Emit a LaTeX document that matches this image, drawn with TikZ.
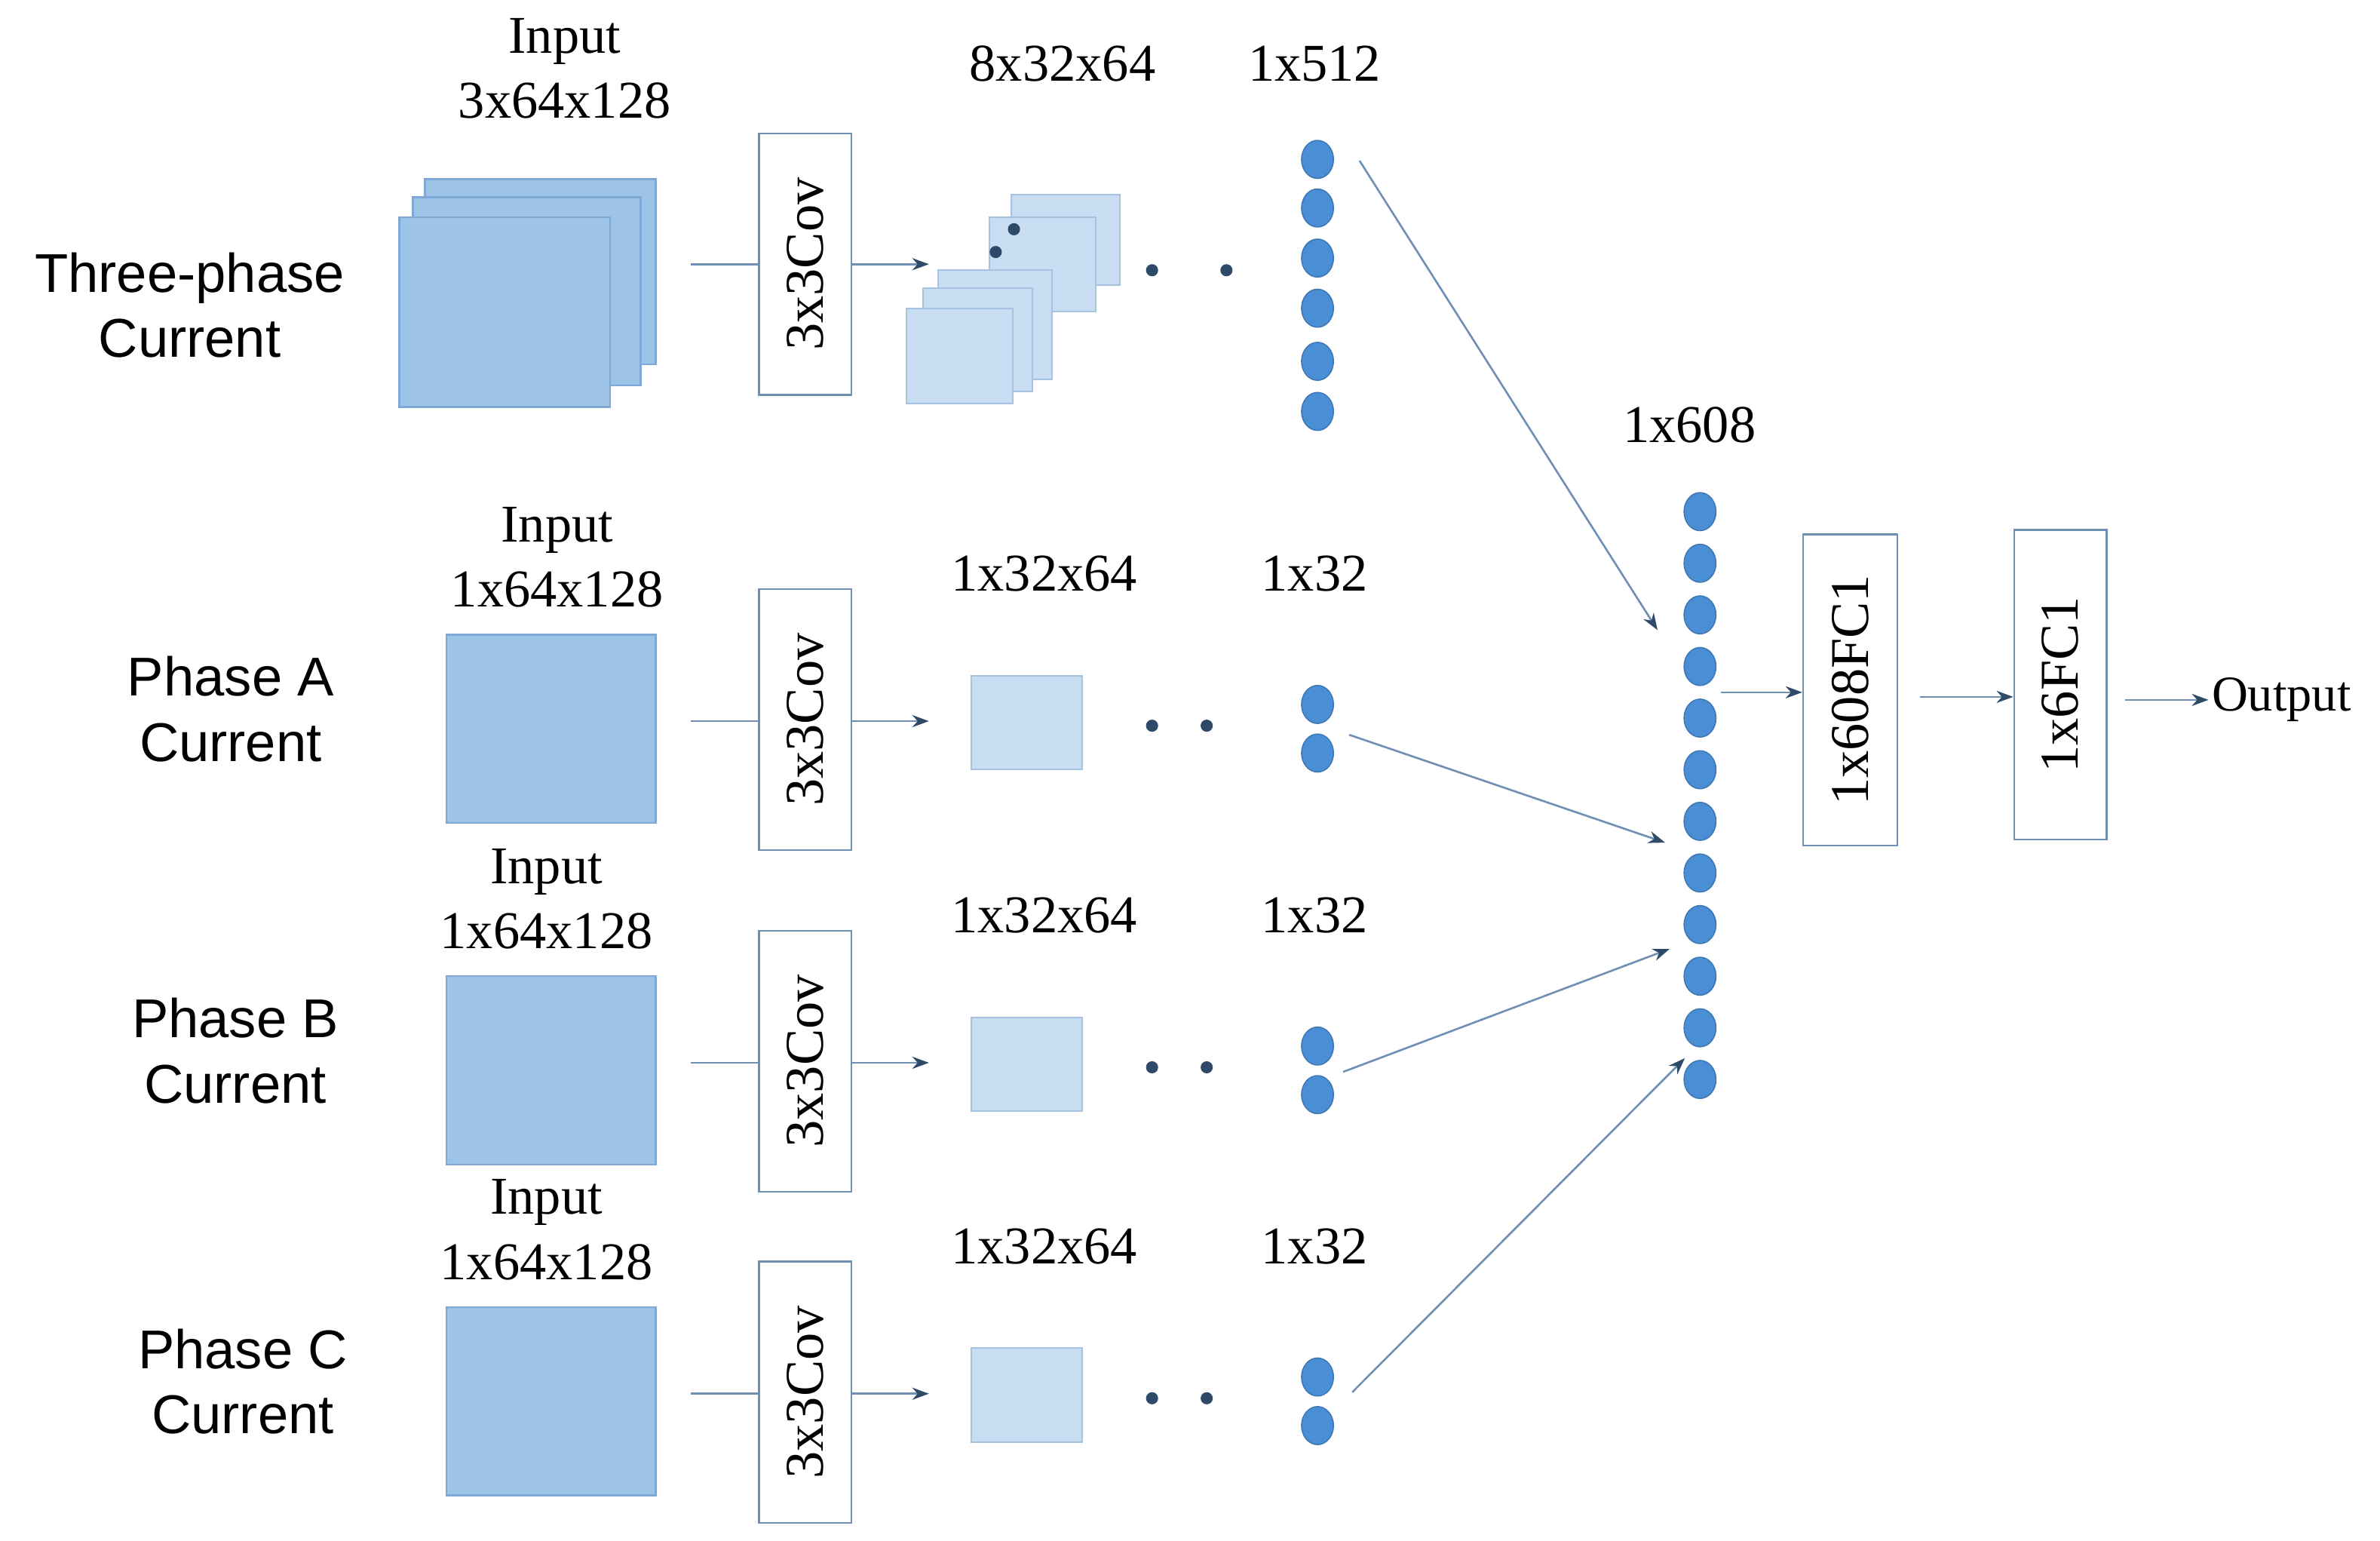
\documentclass[tikz,border=0pt]{standalone}
\usepackage{fontspec}
\setmainfont{Liberation Serif}
\newfontfamily\lsans{Liberation Sans}
\usetikzlibrary{arrows.meta,shapes.geometric}
\definecolor{inblue}{HTML}{9DC3E6}
\definecolor{inedge}{HTML}{7FA8D4}
\definecolor{ftblue}{HTML}{C9DDF2}
\definecolor{dotblue}{HTML}{4A8FD6}
\definecolor{dotedge}{HTML}{3F78B5}
\definecolor{lnc}{HTML}{6F8FB3}
\definecolor{tipc}{HTML}{2E4A68}
\begin{document}
\begin{tikzpicture}[x=1pt,y=-1pt,
  lbl/.style={font=\fontsize{35}{43}\selectfont,align=center},
  slbl/.style={font=\lsans\fontsize{36}{43}\selectfont,align=center},
  inp/.style={fill=inblue,draw=inedge,line width=1.2pt},
  ft/.style={fill=ftblue,draw=inedge!70,line width=1pt},
  box/.style={draw=lnc,line width=1.3pt,fill=white},
  circ/.style={ellipse,fill=dotblue,draw=dotedge,line width=0.8pt,minimum width=21,minimum height=25,inner sep=0},
  sdot/.style={circle,fill=tipc,minimum size=8,inner sep=0},
  ln/.style={draw=lnc,line width=1.3pt},
  arr/.style={draw=lnc,line width=1.3pt,-{Stealth[length=11pt,width=8pt,color=tipc]}},
  cov/.style={rotate=90,font=\fontsize{36}{40}\selectfont}]
\useasboundingbox (0,0) rectangle (1568,1015);

% ---------- Row 1 ----------
\node[slbl] (l1) at (125,201) {Three-phase\\Current};
\node[lbl] (i1) at (372,45) {Input\\3x64x128};
\draw[inp] (280,118) rectangle (432,240);
\draw[inp] (272,130) rectangle (422,254);
\draw[inp] (263,143) rectangle (402,268);
\coordinate (s1) at (455,174);
\node[box,minimum width=61,minimum height=172,inner sep=0] (c1) at (530.5,174) {};
\node[cov] (ct1) at (c1) {3x3Cov};
\coordinate (s1b) at (612,174);
\draw[ln] (s1) -- (c1.west);
\draw[arr] (c1.east) -- (s1b);
\draw[ft] (666,128) rectangle (738,188);
\draw[ft] (652,143) rectangle (722,205);
\draw[ft] (618,178) rectangle (693,250);
\draw[ft] (608,190) rectangle (680,258);
\draw[ft] (597,203) rectangle (667,266);
\node[sdot] (d1a) at (668,151) {};
\node[sdot] (d1b) at (656,166) {};
\node[sdot] (d1c) at (759,178) {};
\node[sdot] (d1d) at (808,178) {};
\node[lbl] (f1) at (700,42) {8x32x64};
\node[lbl] (v1) at (866,42) {1x512};
\foreach \y [count=\k] in {105,137,170,203,238,271} \node[circ] (p1\k) at (868,\y) {};

% ---------- Rows A, B, C ----------
\foreach \r/\dy/\nm/\lx/\ix in {A/0/A/152/367,B/225/B/155/360,C/443/C/160/360}{
  \node[slbl] (l\r) at (\lx,467+\dy) {Phase \nm\\Current};
  \node[lbl] (i\r) at (\ix,367+\dy) {Input\\1x64x128};
  \draw[inp] (294,418+\dy) rectangle (432,542+\dy);
  \coordinate (s\r) at (455,475+\dy);
  \node[box,minimum width=61,minimum height=172,inner sep=0] (c\r) at (530.5,474+\dy) {};
  \node[cov] (ct\r) at (c\r) {3x3Cov};
  \coordinate (e\r) at (612,475+\dy);
  \draw[ln] (s\r) -- (s\r-|c\r.west);
  \draw[arr] (e\r-|c\r.east) -- (e\r);
  \draw[ft] (640,445+\dy) rectangle (713,507+\dy);
  \node[sdot] (d\r a) at (759,478+\dy) {};
  \node[sdot] (d\r b) at (795,478+\dy) {};
  \node[lbl] (f\r) at (688,378+\dy) {1x32x64};
  \node[lbl] (v\r) at (866,378+\dy) {1x32};
  \node[circ] (p\r1) at (868,464+\dy) {};
  \node[circ] (p\r2) at (868,496+\dy) {};
}

% ---------- Concatenation ----------
\node[lbl] (lc) at (1113,280) {1x608};
\foreach \k in {1,...,12} \node[circ] (q\k) at (1120,337+34*\k-34) {};
\coordinate (t1) at (1092,415);
\coordinate (tA) at (1097,555);
\coordinate (tB) at (1100,625);
\coordinate (tC) at (1110,697);
\draw[arr] (p11.north east) ++(20,10) coordinate (o1) -- (t1);
\draw[arr] (pA2.east) ++(10,-12) -- (tA);
\draw[arr] (pB2.east) ++(6,-15) -- (tB);
\draw[arr] (pC1.east) ++(12,10) -- (tC);

% ---------- FC layers ----------
\node[box,minimum width=62,minimum height=205,inner sep=0] (fc1) at (1219,454.5) {};
\node[cov] (fct1) at (fc1) {1x608FC1};
\node[box,minimum width=61,minimum height=204,inner sep=0] (fc2) at (1357.5,451) {};
\node[cov] (fct2) at (fc2) {1x6FC1};
\node[font=\fontsize{33}{36}\selectfont,anchor=west,inner sep=2pt] (out) at (1455,461) {Output};
\coordinate (a1) at (1134,456);
\draw[arr] (a1) -- (a1-|fc1.west);
\coordinate (a2) at (1265,459);
\draw[arr] (a2) -- (a2-|fc2.west);
\coordinate (a3) at (1400,461);
\draw[arr] (a3) -- (out.west);
\end{tikzpicture}
\end{document}
